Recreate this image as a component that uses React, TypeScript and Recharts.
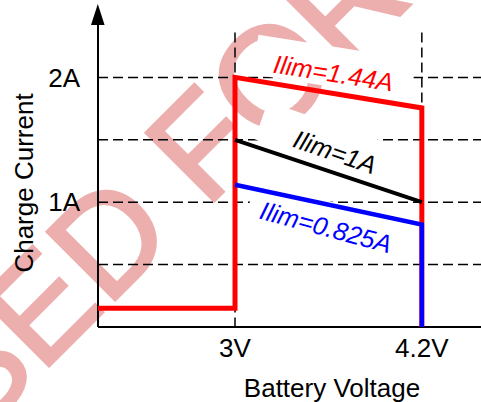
import { LineChart, Line, XAxis, YAxis, ReferenceLine, ReferenceDot } from "recharts";

const FONT = "'Liberation Sans', Arial, sans-serif";

// axis ticks
const voltTicks = [3, 4.2];
const voltLabels = ["3V", "4.2V"];
const currentTicks = [1, 2];
const currentLabels = ["1A", "2A"];
const gridCurrents = [0.5, 1, 1.5, 2];
const markerVolts = [3, 4.2];

// charge current profiles (V, A)
const redVolts = [2.12, 3, 3, 4.2, 4.2];
const redAmps = [0.15, 0.15, 2.0, 1.755, 0];
const blackVolts = [3, 4.2];
const blackAmps = [1.5, 1.0];
const blueVolts = [3, 4.2, 4.2];
const blueAmps = [1.14, 0.82, 0];

// curve tags
const tagNames = ["Ilim=1.44A", "Ilim=1A", "Ilim=0.825A"];
const tagVolts = [3.632, 3.642, 3.584];
const tagAmps = [2.035, 1.402, 0.8];
const tagAngles = [9, 19, 15];
const tagColors = ["#ff0000", "#000000", "#0000ff"];

const X_DOMAIN: [number, number] = [2.12, 4.58];
const Y_DOMAIN: [number, number] = [0, 2.5];

const toRows = (vs: number[], as: number[]) => vs.map((v, i) => ({ v, a: as[i] }));

const series = [
  { name: "red", data: toRows(redVolts, redAmps), color: "#ff0000", width: 5 },
  { name: "black", data: toRows(blackVolts, blackAmps), color: "#000000", width: 4 },
  { name: "blue", data: toRows(blueVolts, blueAmps), color: "#0000ff", width: 4.5 },
];

const Tag = (props: any) => {
  const { cx, cy, idx } = props;
  return (
    <g transform={`translate(${cx},${cy}) rotate(${tagAngles[idx]})`}>
      <rect x={-80} y={-26} width={160} height={40} fill="#fff" />
      <text
        x={0}
        y={0}
        textAnchor="middle"
        dominantBaseline="central"
        fontSize={25.5}
        fontStyle="italic"
        fontFamily={FONT}
        fill={tagColors[idx]}
      >
        {tagNames[idx]}
      </text>
    </g>
  );
};

const layer = { position: "absolute" as const, left: 0, top: 0 };

export default function App() {
  return (
    <div style={{ ...layer, width: 481, height: 402, background: "#fff" }}>
      {/* watermark */}
      <svg width={481} height={402} style={layer}>
        <text
          transform="translate(-25,440) rotate(-45)"
          fontSize={140}
          fontFamily={FONT}
          fill="#edaeae"
          stroke="#edaeae"
          strokeWidth={3}
        >
          SED FOR
        </text>
      </svg>

      {/* axes, dashed guides and tags (curves kept invisible here, only for the scales) */}
      <div style={layer}>
        <LineChart width={481} height={402} margin={{ top: 15, right: 0, left: 38, bottom: 30 }}>
          <XAxis
            type="number"
            dataKey="v"
            domain={X_DOMAIN}
            allowDataOverflow
            ticks={voltTicks}
            interval={0}
            tickFormatter={(v: number) => voltLabels[voltTicks.indexOf(v)]}
            height={45}
            axisLine={{ stroke: "#000", strokeWidth: 2 }}
            tickLine={false}
            tickSize={0}
            tickMargin={12}
            tick={{ fill: "#000", fontSize: 26, fontFamily: FONT }}
          />
          <YAxis
            type="number"
            domain={Y_DOMAIN}
            allowDataOverflow
            ticks={currentTicks}
            interval={0}
            tickFormatter={(a: number) => currentLabels[currentTicks.indexOf(a)]}
            width={60}
            axisLine={{ stroke: "#000", strokeWidth: 2 }}
            tickLine={false}
            tickSize={0}
            tickMargin={18}
            tick={{ fill: "#000", fontSize: 26, fontFamily: FONT }}
          />
          {series.map((s) => (
            <Line
              key={s.name}
              data={s.data}
              dataKey="a"
              type="linear"
              stroke={s.color}
              strokeOpacity={0}
              dot={false}
              activeDot={false}
              isAnimationActive={false}
            />
          ))}
          {gridCurrents.map((a) => (
            <ReferenceLine key={`h${a}`} y={a} stroke="#000" strokeWidth={1.5} strokeDasharray="10 5" />
          ))}
          {markerVolts.map((v) => (
            <ReferenceLine
              key={`v${v}`}
              segment={[{ x: v, y: 2.36 }, { x: v, y: 0 }]}
              stroke="#000"
              strokeWidth={1.5}
              strokeDasharray="10 5"
            />
          ))}
          {tagNames.map((n, i) => (
            <ReferenceDot
              key={n}
              x={tagVolts[i]}
              y={tagAmps[i]}
              r={0}
              ifOverflow="visible"
              shape={(p: any) => <Tag {...p} idx={i} />}
            />
          ))}
        </LineChart>
      </div>

      {/* the current curves, same plot box, drawn on top */}
      <div style={layer}>
        <LineChart width={481} height={402} margin={{ top: 15, right: 0, left: 98, bottom: 75 }}>
          <XAxis type="number" dataKey="v" domain={X_DOMAIN} allowDataOverflow hide />
          <YAxis type="number" domain={Y_DOMAIN} allowDataOverflow hide />
          {series.map((s) => (
            <Line
              key={s.name}
              data={s.data}
              dataKey="a"
              type="linear"
              stroke={s.color}
              strokeWidth={s.width}
              dot={false}
              isAnimationActive={false}
            />
          ))}
        </LineChart>
      </div>

      {/* arrow head and axis titles */}
      <svg width={481} height={402} style={{ ...layer, pointerEvents: "none" }}>
        <polygon points="97.8,4 91,25 104.6,25" fill="#000" />
        <text transform="translate(33,183) rotate(-90)" textAnchor="middle" fontSize={26} fontFamily={FONT} fill="#000">
          Charge Current
        </text>
        <text x={332} y={397} textAnchor="middle" fontSize={26} fontFamily={FONT} fill="#000">
          Battery Voltage
        </text>
      </svg>
    </div>
  );
}
